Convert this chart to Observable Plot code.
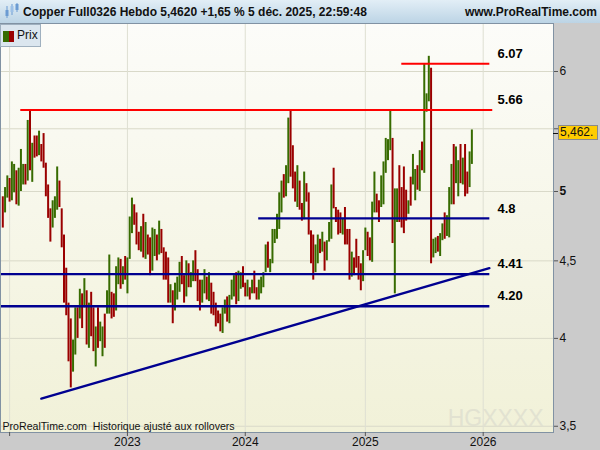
<!DOCTYPE html>
<html>
<head>
<meta charset="utf-8">
<script src="https://cdn.jsdelivr.net/npm/d3@7"></script>
<script src="https://cdn.jsdelivr.net/npm/@observablehq/plot@0.6"></script>
<style>
html,body{margin:0;padding:0;}
body{width:600px;height:450px;overflow:hidden;background:#cbcbcb;font-family:"Liberation Sans",Arial,sans-serif;position:relative;}
#hdr{position:absolute;left:0;top:0;width:600px;height:23px;background:linear-gradient(#e2eef6,#bcd4e5);}
#hdr .t{position:absolute;left:23px;top:5px;font-weight:bold;font-size:12px;color:#111;white-space:nowrap;}
#hdr .r{position:absolute;right:3px;top:5px;font-weight:bold;font-size:12px;color:#111;white-space:nowrap;}
#hdr svg{position:absolute;left:4px;top:3px;}
#bg{position:absolute;left:0;top:23px;width:553px;height:409px;background:linear-gradient(#fcfcf9,#f1f1d8);}
#chart{position:absolute;left:0;top:23px;}
#legend{position:absolute;left:0;top:24px;width:39px;height:21px;background:#dbe6ef;border:1px solid #9fb0bf;font-size:12px;color:#111;}
#legend .g{position:absolute;left:2px;top:6px;width:6px;height:11px;background:#376b00;}
#legend .rd{position:absolute;left:8px;top:6px;width:5px;height:11px;background:#9a0000;}
#legend .l{position:absolute;left:16px;top:3px;}
#price{position:absolute;left:558px;width:37px;height:13px;background:#ffcc00;border:1px solid #8a8a8a;font-size:12px;line-height:13px;color:#111;padding-left:1px;overflow:hidden;white-space:nowrap;}
#ptick{position:absolute;left:553px;width:5px;height:1px;background:#111;}
</style>
</head>
<body>
<div id="hdr">
  <svg width="16" height="17" viewBox="0 0 16 17">
    <line x1="3" y1="3" x2="3" y2="15" stroke="#6b9bd2" stroke-width="1"/>
    <rect x="1.5" y="7" width="3" height="6" fill="#6b9bd2"/>
    <line x1="8" y1="1" x2="8" y2="12" stroke="#6b9bd2" stroke-width="1"/>
    <rect x="6.5" y="3" width="3" height="6" fill="#9cc0e6"/>
    <line x1="13" y1="0" x2="13" y2="9" stroke="#6b9bd2" stroke-width="1"/>
    <rect x="11.5" y="1" width="3" height="6" fill="#6b9bd2"/>
  </svg>
  <span class="t">Copper Full0326 Hebdo 5,4620 +1,65 % 5 déc. 2025, 22:59:48</span>
  <span class="r">www.ProRealTime.com</span>
</div>
<div id="bg"></div>
<div id="chart"></div>
<div id="legend"><div class="g"></div><div class="rd"></div><span class="l">Prix</span></div>
<script>
// ---- data (weekly bars, Monday-dated) ----
const firstWeek = "2021-12-13";
const lastWeek = "2025-12-01";
const hi = [4.96,5.03,5.12,5.10,5.23,5.21,5.16,5.18,5.33,5.21,
 5.21,5.57,5.66,5.38,5.44,5.44,5.48,5.37,5.46,5.22,
 5.05,4.87,4.93,4.96,5.19,5.08,4.87,4.68,4.45,4.22,
 4.12,3.99,4.19,4.19,4.31,4.28,4.38,4.30,4.22,4.29,
 4.19,4.07,4.19,4.10,4.07,4.15,4.30,4.54,4.29,4.28,
 4.46,4.52,4.51,4.46,4.53,4.52,4.81,4.95,4.90,4.84,
 4.70,4.74,4.83,4.77,4.68,4.66,4.73,4.72,4.68,4.78,
 4.72,4.59,4.56,4.52,4.34,4.30,4.35,4.39,4.49,4.53,
 4.40,4.50,4.48,4.42,4.50,4.57,4.44,4.37,4.37,4.44,
 4.39,4.42,4.35,4.29,4.22,4.17,4.15,4.19,4.24,4.26,
 4.27,4.37,4.40,4.42,4.43,4.42,4.46,4.35,4.37,4.32,
 4.37,4.43,4.32,4.37,4.39,4.42,4.61,4.63,4.51,4.72,
 4.72,4.83,4.99,5.08,5.13,5.20,5.59,5.66,5.36,5.15,
 5.20,5.08,4.91,5.15,5.06,4.99,4.71,4.68,4.61,4.68,
 4.65,4.70,4.63,4.64,4.77,5.05,5.18,4.88,4.86,4.84,
 4.80,4.88,4.72,4.72,4.56,4.52,4.65,4.53,4.48,4.57,
 4.73,4.70,4.66,4.92,5.15,4.98,4.93,5.12,5.23,5.42,
 5.41,5.66,5.42,5.02,5.02,5.20,5.03,5.19,5.01,4.93,
 5.11,5.29,5.17,5.20,5.32,5.39,6.07,5.80,6.14,6.03,
 4.65,4.66,4.67,4.69,4.76,4.84,4.82,5.03,5.21,5.37,
 5.35,5.24,5.37,5.26,5.37,5.15,5.31,5.49];
const lo = [4.73,4.84,4.95,4.92,4.93,4.99,4.90,4.89,5.00,5.05,
 5.05,5.08,5.16,5.07,5.26,5.27,5.28,5.23,5.18,4.96,
 4.80,4.63,4.73,4.80,4.86,4.88,4.59,4.22,4.14,3.86,
 3.71,3.80,3.90,4.00,4.12,4.06,4.19,3.96,3.94,4.01,
 3.92,3.83,3.94,3.98,3.89,3.94,4.15,4.15,4.12,4.13,
 4.17,4.34,4.31,4.34,4.37,4.28,4.51,4.69,4.75,4.61,
 4.57,4.56,4.52,4.51,4.54,4.40,4.43,4.53,4.50,4.54,
 4.55,4.37,4.37,4.22,4.22,4.09,4.17,4.24,4.29,4.34,
 4.22,4.26,4.32,4.32,4.36,4.36,4.23,4.17,4.22,4.28,
 4.24,4.23,4.15,4.14,4.07,4.09,4.04,4.03,4.15,4.10,
 4.09,4.24,4.26,4.21,4.23,4.31,4.32,4.26,4.26,4.24,
 4.28,4.28,4.24,4.24,4.28,4.32,4.42,4.45,4.42,4.48,
 4.62,4.65,4.72,4.84,4.95,4.96,5.06,5.11,5.02,4.92,
 4.88,4.86,4.78,4.79,4.92,4.68,4.48,4.37,4.42,4.48,
 4.55,4.56,4.43,4.50,4.63,4.65,4.87,4.77,4.68,4.69,
 4.68,4.61,4.61,4.37,4.39,4.40,4.45,4.37,4.30,4.36,
 4.57,4.53,4.50,4.49,4.84,4.84,4.77,4.88,4.90,5.14,
 5.24,5.32,4.62,4.28,4.77,4.77,4.73,4.69,4.78,4.83,
 4.89,5.05,4.93,5.01,5.00,5.16,5.14,5.64,5.73,4.48,
 4.52,4.55,4.56,4.53,4.64,4.65,4.67,4.66,4.90,4.90,
 5.06,4.96,5.06,5.05,4.96,4.98,5.03,5.21];
// g = up week (green), r = down week (red)
const dir = "rggrggrggg" + "rgrgrrgrrr" + "rrgggrrrrr" + "rggrgrgrgr" + "rgrggrggrr" +
            "ggrgrgggrr" + "rgrgrrggrg" + "rrrrgrgggr" + "rgrggrrrgg" + "rgrrrrrggr" +
            "gggrggrrgr" + "grrggggrgg" + "ggggrggrrr" + "grrgrrrrgg" + "rgrgggrrrr" +
            "grrrgrrrrg" + "grrggrrggg" + "ggrggrrrrg" + "rggrgrgggr" + "ggrggrgggr" +
            "ggrgrrgg";
const lastClose = 5.462;
const lastCloseLabel = "5,462.";

// horizontal levels drawn on the chart
const levelValues = [6.07, 5.66, 4.80, 4.41, 4.20];
const levelLabels = ["6.07", "5.66", "4.8", "4.41", "4.20"];
const levelFrom = ["2025-04-27", "2022-02-05", "2024-02-10", "2021-12-06", "2021-12-06"];
const levelTo   = ["2026-01-24", "2026-02-02", "2026-01-24", "2026-01-24", "2026-01-24"];
const levelColor = ["#ff0000", "#ff0000", "#000090", "#000090", "#000090"];
const levelLabelDate = "2026-02-18";

// rising trendline
const trendDates = ["2022-04-11", "2026-01-24"];
const trendValues = [3.65, 4.45];

// axes (the 5,5 label sits under the last-price tag, so it is left blank)
const yTicks = [3.5, 4, 4.5, 5, 5.5, 6];
const yTickLabels = ["3,5", "4", "4,5", "5", "", "6"];
const xTicks = ["2022-01-03", "2023-01-02", "2024-01-01", "2025-01-06", "2026-01-05"];
const xTickLabels = ["", "2023", "2024", "2025", "2026"];

const caption = "ProRealTime.com  Historique ajusté aux rollovers";
const watermark = "HGXXXX";

// ---- build ----
const parse = s => new Date(s + "T00:00:00Z");
const weeks = d3.utcMonday.range(parse(firstWeek), d3.utcDay.offset(parse(lastWeek), 1));
const bars = weeks.map((d, i) => ({date: d, hi: hi[i], lo: lo[i], up: dir[i] === "g"}));
const levels = levelValues.map((v, i) => ({v, label: levelLabels[i], from: parse(levelFrom[i]), to: parse(levelTo[i]), color: levelColor[i], at: parse(levelLabelDate)}));
const trend = trendDates.map((d, i) => ({date: parse(d), v: trendValues[i]}));
const xTickDates = xTicks.map(parse);
const xLab = new Map(xTickDates.map((d, i) => [+d, xTickLabels[i]]));
const yLab = new Map(yTicks.map((v, i) => [v, yTickLabels[i]]));

const DAY = 864e5;
const t0 = +parse(firstWeek);
const plot = Plot.plot({
  width: 600,
  height: 427,
  marginTop: 0,
  marginLeft: 0,
  marginRight: 47,
  marginBottom: 18,
  style: {background: "transparent", fontFamily: "'Liberation Sans', Arial, sans-serif", color: "#111"},
  x: {type: "utc", domain: [new Date(t0 - 7.1 * DAY), new Date(t0 + 1701.2 * DAY)]},
  y: {type: "log", domain: [3.467, 6.454]},
  marks: [
    Plot.gridY(yTicks, {stroke: "#d9d9c9", strokeOpacity: 1}),
    Plot.gridX(xTickDates, {stroke: "#dedfd2", strokeOpacity: 1}),
    Plot.text([watermark], {frameAnchor: "bottom-right", dx: -10, dy: -7, lineAnchor: "bottom", textAnchor: "end", fontSize: 23, fill: "#e2e2d1"}),
    Plot.text([caption], {frameAnchor: "bottom-left", dx: 2, dy: -3, lineAnchor: "bottom", textAnchor: "start", fontSize: 10.6, fill: "#111"}),
    Plot.ruleX(bars, {x: "date", y1: "lo", y2: "hi", stroke: d => d.up ? "#376b00" : "#9a0000", strokeWidth: 2}),
    Plot.link(levels, {x1: "from", x2: "to", y1: "v", y2: "v", stroke: "color", strokeWidth: d => d.color === "#ff0000" ? 2 : 2.4}),
    Plot.line(trend, {x: "date", y: "v", stroke: "#000090", strokeWidth: 2.4}),
    Plot.text(levels, {x: "at", y: "v", text: "label", dy: -10, textAnchor: "start", fontWeight: "bold", fontSize: 13, fill: "#000"}),
    Plot.frame({stroke: "#8192a3"}),
    Plot.axisY(yTicks, {anchor: "right", tickSize: 4, tickPadding: 2, fontSize: 12, stroke: "#555", tickFormat: v => yLab.get(v)}),
    Plot.axisX(xTickDates, {anchor: "bottom", tickSize: 4, tickPadding: 1, fontSize: 12, stroke: "#555", tickFormat: d => xLab.get(+d)})
  ]
});
document.getElementById("chart").appendChild(plot);
d3.select(plot).selectAll("text").filter(function () { return this.textContent === "5"; }).attr("font-weight", "bold");

// current price tag, positioned with the plot's own y scale
const py = 23 + plot.scale("y").apply(lastClose);
const tag = document.createElement("div");
tag.id = "price";
tag.textContent = lastCloseLabel;
tag.style.top = (py - 7.5) + "px";
document.body.appendChild(tag);
const tk = document.createElement("div");
tk.id = "ptick";
tk.style.top = Math.round(py) + "px";
document.body.appendChild(tk);
</script>
</body>
</html>
